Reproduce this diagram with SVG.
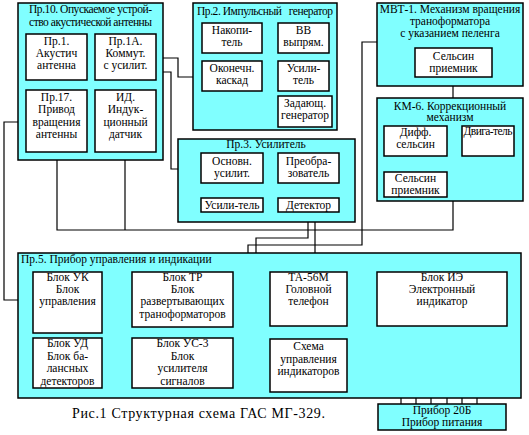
<svg xmlns="http://www.w3.org/2000/svg" width="529" height="435" viewBox="0 0 529 435">
<style>
.bg{fill:#ffffff}
.grp{fill:#80ffff;stroke:#000;stroke-width:1.5}
.box{fill:#ffffff;stroke:#000;stroke-width:1.5}
.ln{fill:none;stroke:#000;stroke-width:1.2}
text{font-family:"Liberation Serif","Times New Roman",serif;font-size:11.5px;fill:#000}
.c{text-anchor:middle}
.cap{font-size:14px}
</style>
<rect class="bg" x="0" y="0" width="529" height="435"/>

<g id="conn">
<path class="ln" d="M87,58H95"/>
<path class="ln" d="M57,80V90"/>
<path class="ln" d="M87,121H95"/>
<path class="ln" d="M57,152V230H453V201"/>
<path class="ln" d="M125,152V230"/>
<path class="ln" d="M26,122H4V300H33"/>
<path class="ln" d="M156,58H178V77H202"/>
<path class="ln" d="M156,72H171V169H201"/>
<path class="ln" d="M262,38H278"/>
<path class="ln" d="M232,53V61"/>
<path class="ln" d="M262,77H278"/>
<path class="ln" d="M308,91V96"/>
<path class="ln" d="M233,300H248V245H362V42H377"/>
<path class="ln" d="M263,169H278"/>
<path class="ln" d="M339,169H347V190H186V206H201"/>
<path class="ln" d="M263,206H278"/>
<path class="ln" d="M308,212V238H256V370H233"/>
<path class="ln" d="M315,212V272"/>
<path class="ln" d="M453,77V98"/>
<path class="ln" d="M447,140H462"/>
<path class="ln" d="M491,156V186H447"/>
<path class="ln" d="M102,294H132"/>
<path class="ln" d="M102,377H117V317H132"/>
<path class="ln" d="M72,338V333H445V326"/>
<path class="ln" d="M171,327V338"/>
<path class="ln" d="M193,327V333"/>
<path class="ln" d="M308,333V339"/>
<path class="ln" d="M401,397V404M416,397V404M431,397V404M447,397V404M462,397V404M477,397V404"/>
</g>

<g id="pr10">
<rect class="grp" x="18" y="3" width="145" height="157"/>
<text class="c" x="90.5" y="13" textLength="123">Пр.10. Опускаемое устрой-</text>
<text class="c" x="90.5" y="26" textLength="123">ство акустической антенны</text>
</g>
<g id="pr1">
<rect class="box" x="26" y="34" width="61" height="46"/>
<text class="c" x="56.5" y="45">Пр.1.</text>
<text class="c" x="56.5" y="57">Акустич</text>
<text class="c" x="56.5" y="69">антенна</text>
</g>
<g id="pr1a">
<rect class="box" x="95" y="34" width="61" height="46"/>
<text class="c" x="125.5" y="45">Пр.1А.</text>
<text class="c" x="125.5" y="57">Коммут.</text>
<text class="c" x="125.5" y="69">с усилит.</text>
</g>
<g id="pr17">
<rect class="box" x="26" y="90" width="61" height="62"/>
<text class="c" x="56.5" y="101">Пр.17.</text>
<text class="c" x="56.5" y="113">Привод</text>
<text class="c" x="56.5" y="126">вращения</text>
<text class="c" x="56.5" y="138">антенны</text>
</g>
<g id="id">
<rect class="box" x="95" y="90" width="61" height="62"/>
<text class="c" x="125.5" y="101">ИД.</text>
<text class="c" x="125.5" y="113">Индук-</text>
<text class="c" x="125.5" y="126">ционный</text>
<text class="c" x="125.5" y="138">датчик</text>
</g>

<g id="pr2">
<rect class="grp" x="193" y="3" width="144" height="127"/>
<text x="197" y="15" xml:space="preserve" textLength="136">Пр.2. Импульсный   генератор</text>
</g>
<g id="nakop">
<rect class="box" x="202" y="23" width="60" height="30"/>
<text class="c" x="232" y="34">Накопи-</text>
<text class="c" x="232" y="46">тель</text>
</g>
<g id="vv">
<rect class="box" x="278" y="23" width="51" height="30"/>
<text class="c" x="303.5" y="34">ВВ</text>
<text class="c" x="303.5" y="46">выпрям.</text>
</g>
<g id="okon">
<rect class="box" x="202" y="61" width="60" height="30"/>
<text class="c" x="232" y="72">Оконечн.</text>
<text class="c" x="232" y="84">каскад</text>
</g>
<g id="usil2">
<rect class="box" x="278" y="61" width="51" height="30"/>
<text class="c" x="303.5" y="72">Усили-</text>
<text class="c" x="303.5" y="84">тель</text>
</g>
<g id="zad">
<rect class="box" x="278" y="96" width="54" height="31"/>
<text class="c" x="305" y="107">Задающ.</text>
<text class="c" x="305" y="119">генератор</text>
</g>

<g id="pr3">
<rect class="grp" x="178" y="139" width="177" height="83"/>
<text class="c" x="266" y="148">Пр.3. Усилитель</text>
</g>
<g id="osn">
<rect class="box" x="201" y="153" width="62" height="30"/>
<text class="c" x="232" y="165">Основн.</text>
<text class="c" x="232" y="177">усилит.</text>
</g>
<g id="preob">
<rect class="box" x="278" y="153" width="61" height="30"/>
<text class="c" x="308.5" y="165">Преобра-</text>
<text class="c" x="308.5" y="177">зователь</text>
</g>
<g id="usil3">
<rect class="box" x="201" y="198" width="62" height="14"/>
<text class="c" x="232" y="209">Усили-тель</text>
</g>
<g id="det">
<rect class="box" x="278" y="198" width="61" height="14"/>
<text class="c" x="308.5" y="209">Детектор</text>
</g>

<g id="mvt1">
<rect class="grp" x="377" y="3" width="146" height="83"/>
<text class="c" x="450" y="13">МВТ-1. Механизм вращения</text>
<text class="c" x="450" y="25">траноформатора</text>
<text class="c" x="450" y="37">с указанием пеленга</text>
</g>
<g id="sels1">
<rect class="box" x="415" y="48" width="77" height="29"/>
<text class="c" x="453.5" y="60">Сельсин</text>
<text class="c" x="453.5" y="72">приемник</text>
</g>

<g id="km6">
<rect class="grp" x="377" y="98" width="146" height="103"/>
<text class="c" x="450" y="110">КМ-6. Коррекционный</text>
<text class="c" x="450" y="121">механизм</text>
</g>
<g id="diff">
<rect class="box" x="384" y="126" width="63" height="30"/>
<text class="c" x="415.5" y="136">Дифф.</text>
<text class="c" x="415.5" y="148">сельсин</text>
</g>
<g id="dvig">
<rect class="box" x="462" y="126" width="52" height="30"/>
<text class="c" x="488" y="135" textLength="49">Двига-тель</text>
</g>
<g id="sels2">
<rect class="box" x="384" y="172" width="63" height="25"/>
<text class="c" x="415.5" y="182">Сельсин</text>
<text class="c" x="415.5" y="194">приемник</text>
</g>

<g id="pr5">
<rect class="grp" x="18" y="253" width="503" height="145"/>
<text x="21" y="263">Пр.5. Прибор управления и индикации</text>
</g>
<g id="uk">
<rect class="box" x="33" y="272" width="69" height="61"/>
<text class="c" x="67.5" y="281">Блок УК</text>
<text class="c" x="67.5" y="293">Блок</text>
<text class="c" x="67.5" y="305">управления</text>
</g>
<g id="tr">
<rect class="box" x="132" y="272" width="101" height="55"/>
<text class="c" x="182.5" y="281">Блок ТР</text>
<text class="c" x="182.5" y="293">Блок</text>
<text class="c" x="182.5" y="305">развертывающих</text>
<text class="c" x="182.5" y="318">траноформаторов</text>
</g>
<g id="ud">
<rect class="box" x="33" y="338" width="69" height="50"/>
<text class="c" x="67.5" y="347">Блок УД</text>
<text class="c" x="67.5" y="360">Блок ба-</text>
<text class="c" x="67.5" y="372">лансных</text>
<text class="c" x="67.5" y="385">детекторов</text>
</g>
<g id="us3">
<rect class="box" x="132" y="338" width="101" height="50"/>
<text class="c" x="182.5" y="347">Блок УС-3</text>
<text class="c" x="182.5" y="360">Блок</text>
<text class="c" x="182.5" y="372">усилителя</text>
<text class="c" x="182.5" y="385">сигналов</text>
</g>
<g id="ta56">
<rect class="box" x="270" y="272" width="77" height="54"/>
<text class="c" x="308.5" y="281">ТА-56М</text>
<text class="c" x="308.5" y="293">Головной</text>
<text class="c" x="308.5" y="305">телефон</text>
</g>
<g id="ie">
<rect class="box" x="377" y="272" width="130" height="54"/>
<text class="c" x="442" y="281">Блок ИЭ</text>
<text class="c" x="442" y="293">Электронный</text>
<text class="c" x="442" y="305">индикатор</text>
</g>
<g id="schema">
<rect class="box" x="270" y="339" width="77" height="53"/>
<text class="c" x="308.5" y="350">Схема</text>
<text class="c" x="308.5" y="363">управления</text>
<text class="c" x="308.5" y="375">индикаторов</text>
</g>

<g id="pr20b">
<rect class="grp" x="378" y="404" width="128" height="26"/>
<text class="c" x="442" y="414">Прибор 20Б</text>
<text class="c" x="442" y="426">Прибор питания</text>
</g>

<text class="cap" x="72" y="418" textLength="253" lengthAdjust="spacing">Рис.1 Структурная схема ГАС МГ-329.</text>
</svg>
